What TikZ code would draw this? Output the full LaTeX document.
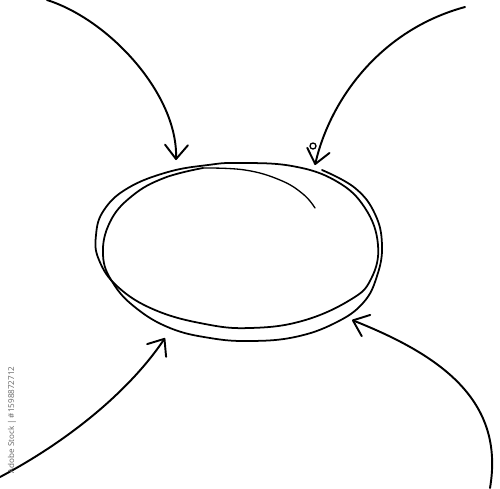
\documentclass[tikz,border=0pt]{standalone}
\usepackage{fontspec}
\newfontfamily\stockfont{Open Sans}
\usetikzlibrary{arrows.meta}

\tikzset{
    sketchline/.style={line width=1pt},
    thinline/.style={line width=0.75pt},
}

\begin{document}
\begin{tikzpicture}[x=0.02cm, y=-0.02cm, line cap=round, line join=round]
        \useasboundingbox (0,0) rectangle (500,488);

        % the oval, drawn twice round
        \draw [sketchline] plot[smooth cycle, tension=0.7] coordinates {
            (238,163) (292,166) (336,181) (365,208) (378,245) (371,279)
            (350,300) (302,321) (250,328) (205,324) (155,310) (118,287)
            (99,260) (96,235) (104,210) (128,188) (168,172) (208,165)};
        \draw [sketchline] plot[smooth, tension=0.7] coordinates {
            (322,170) (355,188) (375,214) (382,245) (377,276) (363,303)
            (335,323) (295,337) (250,341) (210,338) (170,328) (136,308)
            (113,283) (103,255) (110,222) (132,196) (164,178) (203,168)};
        \draw [thinline] plot[smooth, tension=0.7] coordinates {
            (203,168) (245,170) (280,180) (303,194) (315,208)};

        \coordinate (tlFrom) at (47,0);
        \coordinate (tlTo) at (176,160);
        \coordinate (trFrom) at (465,7);
        \coordinate (trTo) at (315,165);
        \coordinate (brFrom) at (490,488);
        \coordinate (brTo) at (352,320);
        \coordinate (blFrom) at (0,477);
        \coordinate (blTo) at (165,338);

        \begin{scope}[>={Straight Barb[length=8pt, width=13pt, round]}, line width=1.1pt]
        \draw [->] (tlFrom) .. controls (110,20) and (178,95) .. (tlTo);
        \draw [->] (trFrom) .. controls (380,30) and (330,100) .. (trTo);
        \draw [->] (brFrom) .. controls (505,400) and (440,355) .. (brTo);
        \draw [->] (blFrom) .. controls (70,440) and (130,390) .. (blTo);
        \end{scope}

        % little loop on the top right arrow head
        \draw [thinline] (313,146) circle [radius=3];

        \node [rotate=90, inner sep=0, text=black!60,
               font=\stockfont\fontsize{4.6}{5}\selectfont] (stockid) at (12,420)
               {Adobe Stock | \#1598872712};
    \end{tikzpicture}
\end{document}
